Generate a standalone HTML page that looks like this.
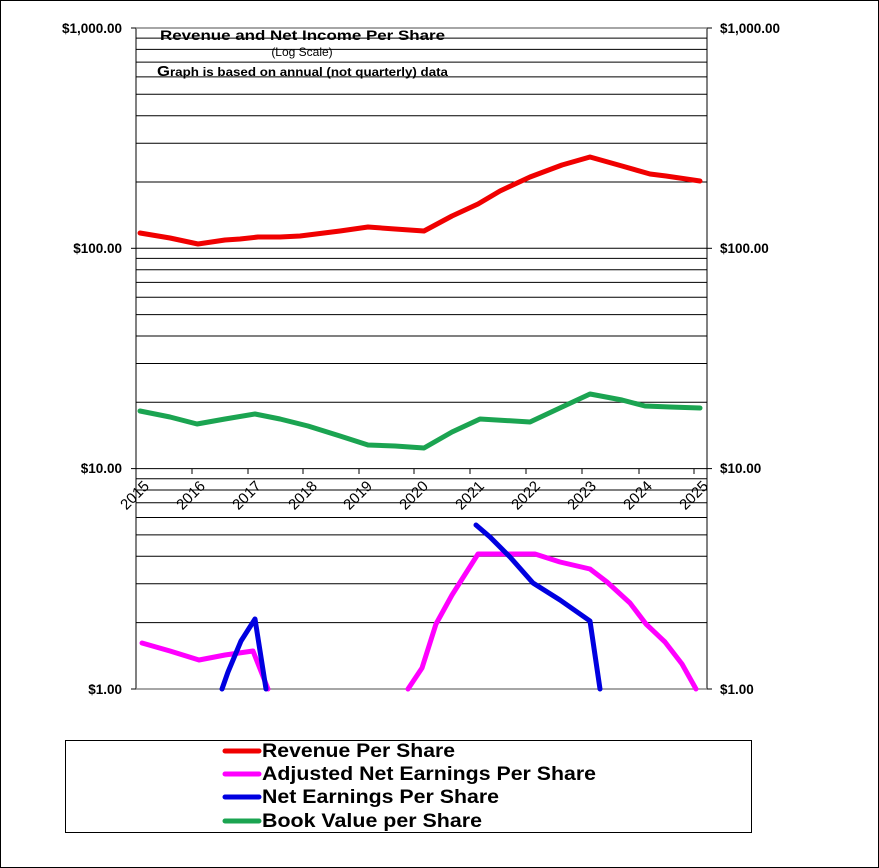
<!DOCTYPE html>
<html><head><meta charset="utf-8"><style>
html,body{margin:0;padding:0;background:#fff}
svg{display:block;font-family:"Liberation Sans",Arial,sans-serif}
</style></head><body>
<svg width="879" height="868" viewBox="0 0 879 868" xmlns="http://www.w3.org/2000/svg">
<rect x="0.5" y="0.5" width="878" height="867" fill="#fff" stroke="#000"/>
<g stroke="#000" stroke-width="1">
<line x1="136" y1="38.1" x2="707" y2="38.1"/><line x1="136" y1="49.4" x2="707" y2="49.4"/><line x1="136" y1="62.1" x2="707" y2="62.1"/><line x1="136" y1="76.9" x2="707" y2="76.9"/><line x1="136" y1="94.3" x2="707" y2="94.3"/><line x1="136" y1="115.7" x2="707" y2="115.7"/><line x1="136" y1="143.2" x2="707" y2="143.2"/><line x1="136" y1="182" x2="707" y2="182"/><line x1="136" y1="248.3" x2="707" y2="248.3"/>
<line x1="136" y1="258.4" x2="707" y2="258.4"/><line x1="136" y1="269.7" x2="707" y2="269.7"/><line x1="136" y1="282.4" x2="707" y2="282.4"/><line x1="136" y1="297.2" x2="707" y2="297.2"/><line x1="136" y1="314.6" x2="707" y2="314.6"/><line x1="136" y1="336" x2="707" y2="336"/><line x1="136" y1="363.5" x2="707" y2="363.5"/><line x1="136" y1="402.3" x2="707" y2="402.3"/><line x1="136" y1="468.6" x2="707" y2="468.6"/>
<line x1="136" y1="478.7" x2="707" y2="478.7"/><line x1="136" y1="490" x2="707" y2="490"/><line x1="136" y1="502.7" x2="707" y2="502.7"/><line x1="136" y1="517.5" x2="707" y2="517.5"/><line x1="136" y1="534.9" x2="707" y2="534.9"/><line x1="136" y1="556.3" x2="707" y2="556.3"/><line x1="136" y1="583.8" x2="707" y2="583.8"/><line x1="136" y1="622.6" x2="707" y2="622.6"/>
<line x1="136" y1="28" x2="136" y2="689"/><line x1="707" y1="28" x2="707" y2="689"/>
<line x1="131" y1="28" x2="136" y2="28"/><line x1="131" y1="248.3" x2="136" y2="248.3"/><line x1="131" y1="468.6" x2="136" y2="468.6"/><line x1="131" y1="689" x2="136" y2="689"/>
<line x1="707" y1="28" x2="712" y2="28"/><line x1="707" y1="248.3" x2="712" y2="248.3"/><line x1="707" y1="468.6" x2="712" y2="468.6"/><line x1="707" y1="689" x2="712" y2="689"/>
<line x1="192" y1="468.6" x2="192" y2="474"/><line x1="248" y1="468.6" x2="248" y2="474"/><line x1="303" y1="468.6" x2="303" y2="474"/><line x1="359" y1="468.6" x2="359" y2="474"/><line x1="414" y1="468.6" x2="414" y2="474"/><line x1="470" y1="468.6" x2="470" y2="474"/><line x1="526" y1="468.6" x2="526" y2="474"/><line x1="582" y1="468.6" x2="582" y2="474"/><line x1="639" y1="468.6" x2="639" y2="474"/><line x1="694" y1="468.6" x2="694" y2="474"/>
</g>
<line x1="136" y1="28" x2="707" y2="28" stroke="#888" stroke-width="1.5"/>
<line x1="136" y1="689" x2="707" y2="689" stroke="#888" stroke-width="1.5"/>
<g font-weight="bold" font-size="13.5" fill="#000">
<text x="122" y="33" text-anchor="end">$1,000.00</text>
<text x="122" y="253" text-anchor="end">$100.00</text>
<text x="122" y="473" text-anchor="end">$10.00</text>
<text x="122" y="694" text-anchor="end">$1.00</text>
<text x="720" y="33">$1,000.00</text>
<text x="720" y="253">$100.00</text>
<text x="720" y="473">$10.00</text>
<text x="720" y="694">$1.00</text>
</g>
<g font-size="15" fill="#000">
<text transform="translate(150,487) rotate(-45)" text-anchor="end">2015</text>
<text transform="translate(206,487) rotate(-45)" text-anchor="end">2016</text>
<text transform="translate(262,487) rotate(-45)" text-anchor="end">2017</text>
<text transform="translate(318,487) rotate(-45)" text-anchor="end">2018</text>
<text transform="translate(373,487) rotate(-45)" text-anchor="end">2019</text>
<text transform="translate(429,487) rotate(-45)" text-anchor="end">2020</text>
<text transform="translate(485,487) rotate(-45)" text-anchor="end">2021</text>
<text transform="translate(541,487) rotate(-45)" text-anchor="end">2022</text>
<text transform="translate(597,487) rotate(-45)" text-anchor="end">2023</text>
<text transform="translate(653,487) rotate(-45)" text-anchor="end">2024</text>
<text transform="translate(709,487) rotate(-45)" text-anchor="end">2025</text>
</g>
<text x="160" y="40" font-weight="bold" font-size="14" textLength="285" lengthAdjust="spacingAndGlyphs">Revenue  and Net Income  Per Share</text>
<text x="302" y="56" text-anchor="middle" font-size="12">(Log Scale)</text>
<text x="157" y="76" font-weight="bold" font-size="12" textLength="291" lengthAdjust="spacingAndGlyphs"><tspan font-size="15">G</tspan>raph is based on annual (not quarterly) data</text>
<g fill="none" stroke-width="5" stroke-linejoin="round" stroke-linecap="round">
<polyline stroke="#f00000" points="140,233 170,238 198,244 225,240 240,239 258,237 280,237 300,236 340,231 368,227 395,229 424,231 452,216 478,204 500,191 530,177 562,165 590,157 622,166 650,174 666,176 700,181"/>
<polyline stroke="#1ba451" points="140,411 170,417 197,424 225,419 255,414 280,419 308,426 340,436 368,445 395,446 424,448 452,432 480,419 530,422 562,407 590,394 622,400 645,406 670,407 700,408"/>
<polyline stroke="#ff00ff" points="142,643 170,651 199,660 225,655 253,651 268,689"/>
<polyline stroke="#ff00ff" points="408,689 422,668 436,624 452,595 478,554 535,554 560,562 590,569 607,582 630,603 646,624 665,642 682,664 696,689"/>
<polyline stroke="#0000e0" points="222,689 228,672 241,641 255,619 266,689"/>
<polyline stroke="#0000e0" points="476,525 490,537 510,557 533,583 560,600 590,621 600,689"/>
</g>
<rect x="65.5" y="740.5" width="686" height="92" fill="none" stroke="#000"/>
<g stroke-width="5" stroke-linecap="round">
<line x1="225" y1="751" x2="259" y2="751" stroke="#f00000"/>
<line x1="225" y1="774" x2="259" y2="774" stroke="#ff00ff"/>
<line x1="225" y1="797" x2="259" y2="797" stroke="#0000e0"/>
<line x1="225" y1="821" x2="259" y2="821" stroke="#1ba451"/>
</g>
<g font-weight="bold" font-size="19" fill="#000">
<text x="262" y="757" textLength="193" lengthAdjust="spacingAndGlyphs">Revenue Per Share</text>
<text x="262" y="780" textLength="334" lengthAdjust="spacingAndGlyphs">Adjusted Net Earnings Per Share</text>
<text x="262" y="803" textLength="237" lengthAdjust="spacingAndGlyphs">Net Earnings Per Share</text>
<text x="262" y="827" textLength="220" lengthAdjust="spacingAndGlyphs">Book Value per Share</text>
</g>
</svg>
</body></html>
